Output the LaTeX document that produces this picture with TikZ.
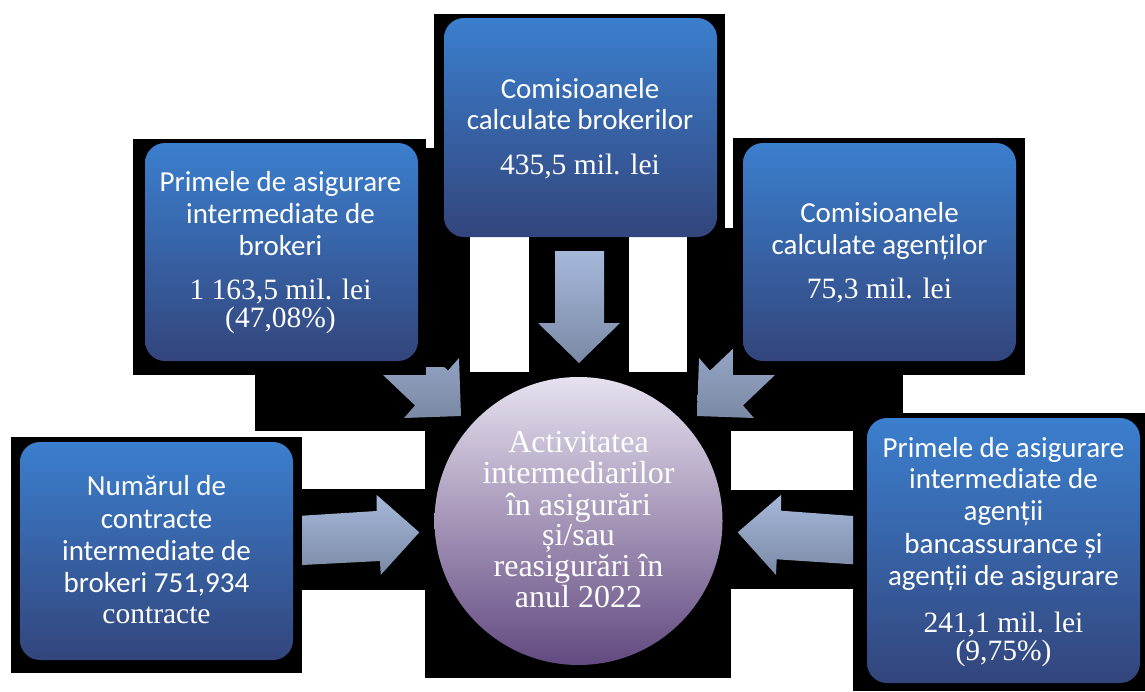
\documentclass[tikz,border=0pt]{standalone}
\usepackage{fontspec}
\setmainfont{Liberation Serif}
\newfontfamily\sansf{Carlito}
\definecolor{boxtop}{RGB}{59,127,206}
\definecolor{boxbot}{RGB}{51,69,124}
\definecolor{arrtop}{RGB}{166,184,218}
\definecolor{arrbot}{RGB}{122,137,165}
\definecolor{circtop}{RGB}{231,225,239}
\definecolor{circmid}{RGB}{168,146,190}
\definecolor{circbot}{RGB}{98,74,128}
\tikzset{
  box/.style={rectangle, rounded corners=20pt, top color=boxtop, bottom color=boxbot, draw=none, inner sep=0pt},
  stxt/.style={anchor=base, text=white, font=\sansf\fontsize{29}{32}\selectfont, inner sep=0pt},
  rtxt/.style={anchor=base, text=white, font=\fontsize{29.5}{32}\selectfont, inner sep=0pt},
  ctxt/.style={anchor=base, text=white, font=\fontsize{32}{34}\selectfont, inner sep=0pt},
  blk/.style={fill=black, draw=none},
  barrow/.style={top color=arrtop, bottom color=arrbot, draw=none},
}
\begin{document}
\begin{tikzpicture}[x=1pt,y=-1pt]
\path[use as bounding box, fill=white] (0,0) rectangle (1145,691);
% black backgrounds
\path[blk] (434,14) rectangle (725,229);
\path[blk] (133,139) rectangle (426,375);
\path[blk] (733,138) rectangle (1025,375);
\path[blk] (11,437) rectangle (302,673);
\path[blk] (853,413) rectangle (1145,691);
\path[blk] (425,372) rectangle (731,678);
\path[blk] (529,229) rectangle (629,373);
\path[blk] (255,148) rectangle (470,431);
\path[blk] (687,228) rectangle (903,431);
\path[blk] (302,489) rectangle (425,590);
\path[blk] (731,490) rectangle (853,589);
% block arrows
\path[barrow] (555,251) -- (604,251) -- (604,323) -- (620,323) -- (579,363) -- (538,323) -- (555,323) -- cycle;
\path[barrow] (375.5,301.7) -- (448,370.6) -- (459,358) -- (461,416) -- (404,418) -- (415,405.4) -- (342.5,336.5) -- cycle;
\path[barrow] (782.5,301.7) -- (710,370.6) -- (699,358) -- (697,416) -- (754,418) -- (743,405.4) -- (815.5,336.5) -- cycle;
\path[barrow] (302,515.7) -- (376.7,511) -- (376.7,495) -- (419.3,532.3) -- (380.7,575) -- (380,561) -- (302,565) -- cycle;
\path[barrow] (853,516) -- (781,510.7) -- (781,495) -- (737.7,532.3) -- (776,575) -- (776.7,559.3) -- (853,564.3) -- cycle;
% covers
\path[blk] (133,139) rectangle (426,375);
\path[blk] (733,138) rectangle (1025,375);
\path[blk] (426,148) rectangle (447,367);
% boxes
\node[box, minimum width=273pt, minimum height=219pt] (btop) at (580.5,127.5) {};
\node[box, minimum width=273pt, minimum height=218pt] (bul) at (281.5,252) {};
\node[box, minimum width=273pt, minimum height=218pt] (bur) at (879.5,252) {};
\node[box, minimum width=273pt, minimum height=218pt] (bll) at (156.5,551) {};
\node[box, minimum width=273pt, minimum height=265pt] (blr) at (1003.5,550.5) {};
\node[circle, minimum size=288pt, inner sep=0pt, top color=circtop, middle color=circmid, bottom color=circbot] (circ) at (578.5,521) {};
% texts top
\node[stxt] (t1) at (580,98) {Comisioanele};
\node[stxt] (t2) at (580,129) {calculate brokerilor};
\node[rtxt] (t3) at (580,174) {435,5 mil. lei};
% upper left
\node[stxt] (u1) at (280.5,191) {Primele de asigurare};
\node[stxt] (u2) at (280.5,223) {intermediate de};
\node[stxt] (u3) at (280.5,255) {brokeri};
\node[rtxt] (u4) at (280.5,299) {1 163,5 mil. lei};
\node[rtxt] (u5) at (280.5,327) {(47,08\%)};
% upper right
\node[stxt] (r1) at (879.5,222) {Comisioanele};
\node[stxt] (r2) at (879.5,254) {calculate agenților};
\node[rtxt] (r3) at (879.5,298) {75,3 mil. lei};
% lower left
\node[stxt] (l1) at (156.5,495) {Numărul de};
\node[stxt] (l2) at (156.5,528) {contracte};
\node[stxt] (l3) at (156.5,560) {intermediate de};
\node[stxt] (l4) at (156.5,592) {brokeri 751,934};
\node[rtxt] (l5) at (156.5,623) {contracte};
% lower right
\node[stxt] (g1) at (1003.5,457) {Primele de asigurare};
\node[stxt] (g2) at (1003.5,488) {intermediate de};
\node[stxt] (g3) at (1003.5,520) {agenții};
\node[stxt] (g4) at (1003.5,553) {bancassurance și};
\node[stxt] (g5) at (1003.5,585) {agenții de asigurare};
\node[rtxt] (g6) at (1003.5,632) {241,1 mil. lei};
\node[rtxt] (g7) at (1003.5,660) {(9,75\%)};
% circle
\node[ctxt] (c1) at (578.5,452) {Activitatea};
\node[ctxt] (c2) at (578.5,483) {intermediarilor};
\node[ctxt] (c3) at (578.5,515) {în asigurări};
\node[ctxt] (c4) at (578.5,545) {și/sau};
\node[ctxt] (c5) at (578.5,576) {reasigurări în};
\node[ctxt] (c6) at (578.5,607) {anul 2022};
\end{tikzpicture}
\end{document}
